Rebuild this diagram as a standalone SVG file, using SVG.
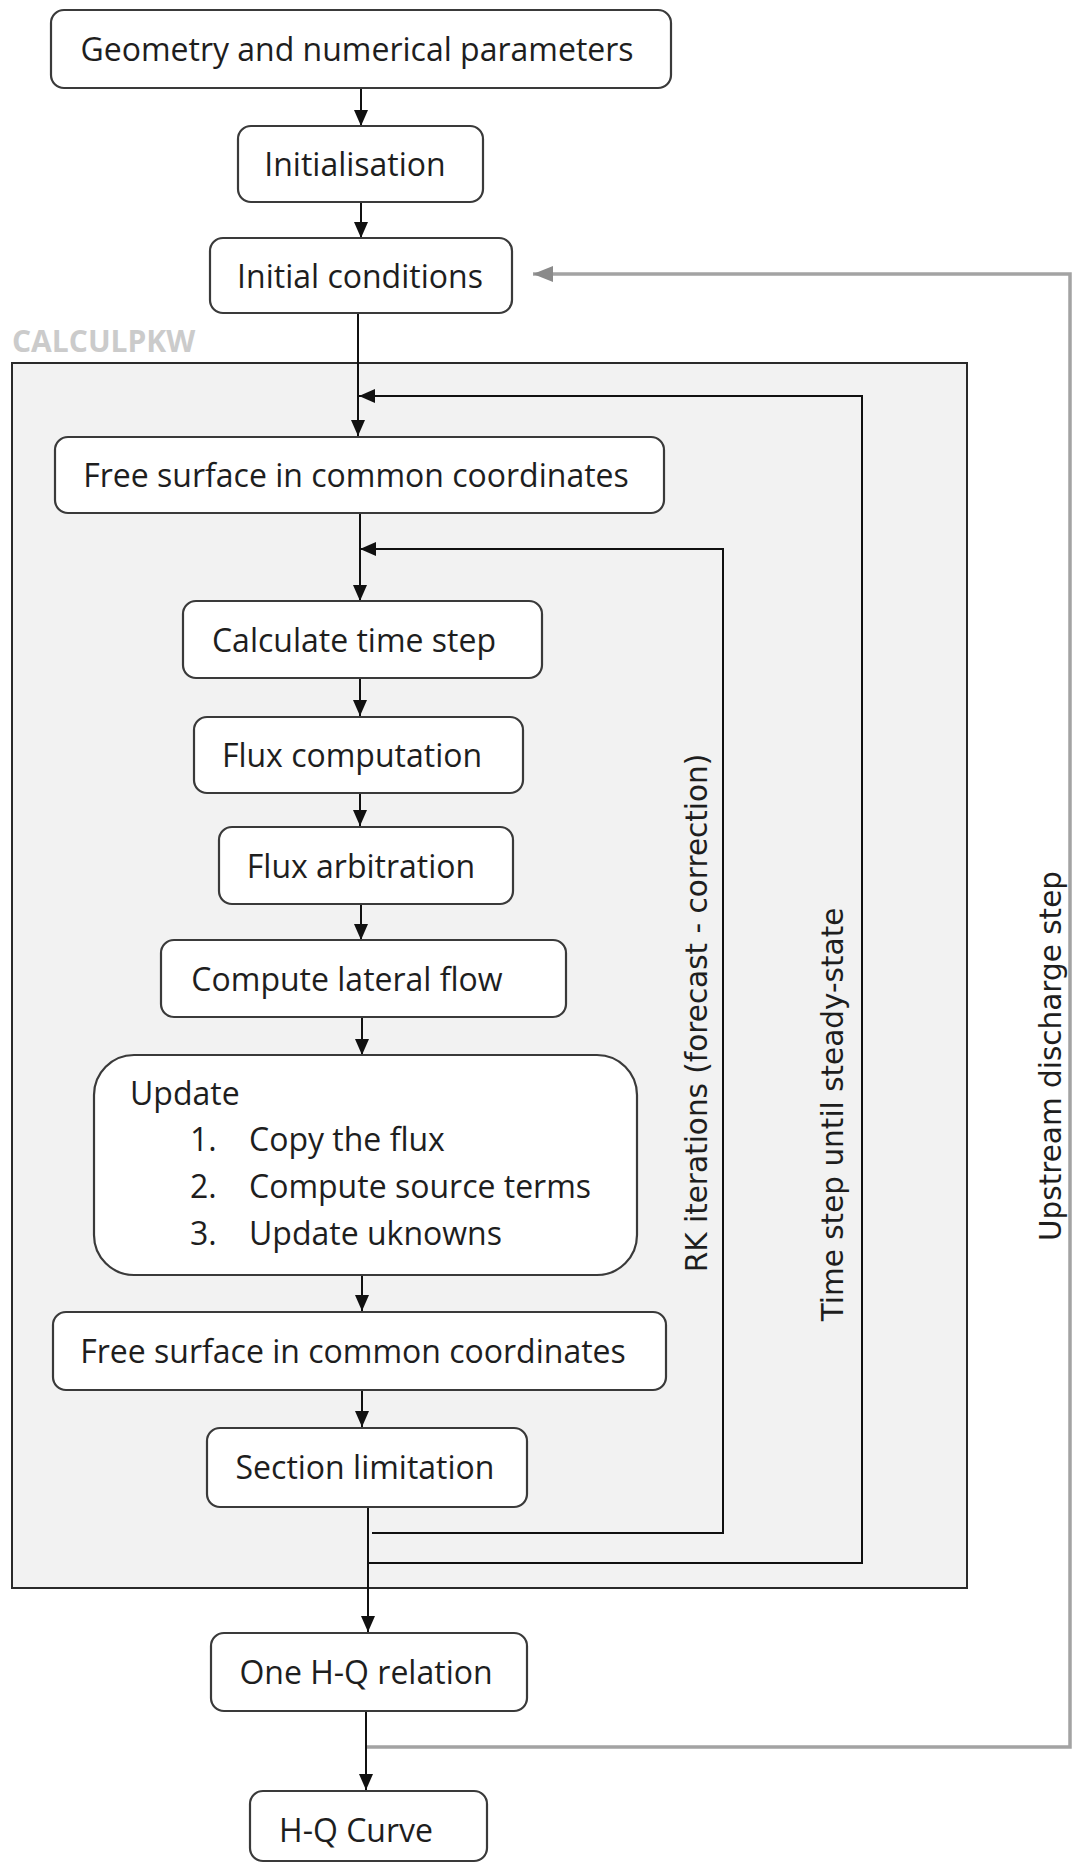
<svg xmlns="http://www.w3.org/2000/svg" width="1072" height="1863" viewBox="0 0 1072 1863">
<style>
.box{fill:#ffffff;stroke:#3a3a3a;stroke-width:2.2}
.t{font-family:"Open Sans","Noto Sans",sans-serif;font-size:32px;fill:#1e1e1e;text-anchor:middle}
.tl{font-family:"Open Sans","Noto Sans",sans-serif;font-size:32px;fill:#1e1e1e}
.rot{font-family:"DejaVu Sans",Verdana,sans-serif;font-size:29.5px;fill:#1e1e1e;text-anchor:middle}
.ln{fill:none;stroke:#111;stroke-width:2}
.gl{fill:none;stroke:#a3a3a3;stroke-width:3.5}
.lbl{font-family:"Open Sans","Noto Sans",sans-serif;font-size:30px;font-weight:700;fill:#cbcbcb}
</style>
<defs>
<marker id="ah" markerUnits="userSpaceOnUse" markerWidth="16" markerHeight="16" viewBox="0 0 16 16" refX="16" refY="8" orient="auto">
<path d="M0,1 L16,8 L0,15 Z" fill="#111"/>
</marker>
<marker id="ahg" markerUnits="userSpaceOnUse" markerWidth="20" markerHeight="18" viewBox="0 0 20 18" refX="20" refY="9" orient="auto">
<path d="M0,1 L20,9 L0,17 Z" fill="#8a8a8a"/>
</marker>
</defs>
<rect width="1072" height="1863" fill="#ffffff"/>

<g id="container">
<rect x="12" y="363" width="955" height="1225" fill="#f2f2f2" stroke="#2a2a2a" stroke-width="2"/>
<text class="lbl" x="12" y="352">CALCULPKW</text>
</g>

<g id="connectors">
<line class="ln" x1="361" y1="89" x2="361" y2="126" marker-end="url(#ah)"/>
<line class="ln" x1="361" y1="203" x2="361" y2="238" marker-end="url(#ah)"/>
<line class="ln" x1="358" y1="314" x2="358" y2="436" marker-end="url(#ah)"/>
<line class="ln" x1="360" y1="514" x2="360" y2="601" marker-end="url(#ah)"/>
<line class="ln" x1="360" y1="678" x2="360" y2="716" marker-end="url(#ah)"/>
<line class="ln" x1="360" y1="793" x2="360" y2="826" marker-end="url(#ah)"/>
<line class="ln" x1="361" y1="904" x2="361" y2="940" marker-end="url(#ah)"/>
<line class="ln" x1="362" y1="1017" x2="362" y2="1055" marker-end="url(#ah)"/>
<line class="ln" x1="362" y1="1275" x2="362" y2="1311" marker-end="url(#ah)"/>
<line class="ln" x1="362" y1="1390" x2="362" y2="1427" marker-end="url(#ah)"/>
<line class="ln" x1="368" y1="1507" x2="368" y2="1632" marker-end="url(#ah)"/>
<line class="ln" x1="366" y1="1711" x2="366" y2="1790" marker-end="url(#ah)"/>
<polyline class="ln" points="369,1563 862,1563 862,396 359,396" marker-end="url(#ah)"/>
<polyline class="ln" points="372,1533 723,1533 723,549 360,549" marker-end="url(#ah)"/>
<polyline class="gl" points="367,1747 1070,1747 1070,274 533,274" marker-end="url(#ahg)"/>
</g>

<g id="n-geometry">
<rect class="box" x="51" y="10" width="620" height="78" rx="13"/>
<text class="t" x="357" y="61">Geometry and numerical parameters</text>
</g>
<g id="n-init">
<rect class="box" x="238" y="126" width="245" height="76" rx="13"/>
<text class="t" x="355" y="176">Initialisation</text>
</g>
<g id="n-initcond">
<rect class="box" x="210" y="238" width="302" height="75" rx="13"/>
<text class="t" x="360" y="288">Initial conditions</text>
</g>
<g id="n-free1">
<rect class="box" x="55" y="437" width="609" height="76" rx="13"/>
<text class="t" x="356" y="487">Free surface in common coordinates</text>
</g>
<g id="n-timestep">
<rect class="box" x="183" y="601" width="359" height="77" rx="13"/>
<text class="t" x="354" y="652">Calculate time step</text>
</g>
<g id="n-fluxcomp">
<rect class="box" x="194" y="717" width="329" height="76" rx="13"/>
<text class="t" x="352" y="767">Flux computation</text>
</g>
<g id="n-fluxarb">
<rect class="box" x="219" y="827" width="294" height="77" rx="13"/>
<text class="t" x="361" y="878">Flux arbitration</text>
</g>
<g id="n-lateral">
<rect class="box" x="161" y="940" width="405" height="77" rx="13"/>
<text class="t" x="347" y="991">Compute lateral flow</text>
</g>
<g id="n-update">
<rect class="box" x="94" y="1055" width="543" height="220" rx="40"/>
<text class="tl" x="130" y="1105">Update</text>
<text class="tl" x="190" y="1151">1.</text>
<text class="tl" x="249" y="1151">Copy the flux</text>
<text class="tl" x="190" y="1198">2.</text>
<text class="tl" x="249" y="1198">Compute source terms</text>
<text class="tl" x="190" y="1245">3.</text>
<text class="tl" x="249" y="1245">Update uknowns</text>
</g>
<g id="n-free2">
<rect class="box" x="53" y="1312" width="613" height="78" rx="13"/>
<text class="t" x="353" y="1363">Free surface in common coordinates</text>
</g>
<g id="n-section">
<rect class="box" x="207" y="1428" width="320" height="79" rx="13"/>
<text class="t" x="365" y="1479">Section limitation</text>
</g>
<g id="n-onehq">
<rect class="box" x="211" y="1633" width="316" height="78" rx="13"/>
<text class="t" x="366" y="1684">One H-Q relation</text>
</g>
<g id="n-hqcurve">
<rect class="box" x="250" y="1791" width="237" height="70" rx="13"/>
<text class="t" x="356" y="1842">H-Q Curve</text>
</g>

<g id="loop-labels">
<text class="rot" transform="translate(707,1013) rotate(-90)">RK iterations (forecast - correction)</text>
<text class="rot" transform="translate(843,1114.5) rotate(-90)">Time step until steady-state</text>
<text class="rot" transform="translate(1061,1056) rotate(-90)">Upstream discharge step</text>
</g>
</svg>
